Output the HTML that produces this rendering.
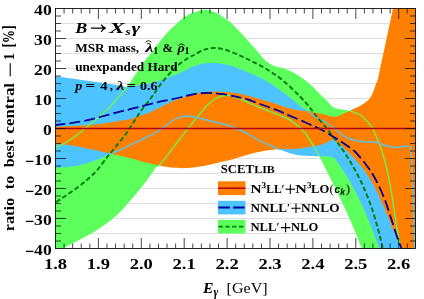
<!DOCTYPE html>
<html><head><meta charset="utf-8"><title>plot</title>
<style>html,body{margin:0;padding:0;background:#fff}body{width:424px;height:299px;overflow:hidden;font-family:"Liberation Serif",serif}</style></head>
<body>
<svg width="424" height="299" viewBox="0 0 424 299" style="display:block;will-change:transform">
<!-- bg -->
<defs><clipPath id="c"><rect x="55.5" y="8.5" width="360.0" height="240.0"/></clipPath></defs>
<path d="M55.5 23.5H415.5M55.5 38.5H415.5M55.5 53.5H415.5M55.5 68.5H415.5M55.5 83.5H415.5M55.5 98.5H415.5M55.5 113.5H415.5M55.5 128.5H415.5M55.5 143.5H415.5M55.5 158.5H415.5M55.5 173.5H415.5M55.5 188.5H415.5M55.5 203.5H415.5M55.5 218.5H415.5M55.5 233.5H415.5" stroke="#DEDEDE" stroke-width="1" fill="none"/>
<g clip-path="url(#c)">
<path d="M55.5 148.0C57.9 146.7 65.1 143.2 70.0 140.0C74.9 136.8 80.3 132.2 85.0 128.5C89.7 124.8 94.7 120.8 98.0 118.0C101.3 115.2 102.8 113.7 105.0 111.5C107.2 109.3 109.5 107.2 111.5 105.0C113.5 102.8 115.0 100.7 117.0 98.5C119.0 96.3 121.5 93.6 123.3 91.7C125.0 89.8 125.8 89.4 127.5 87.0C129.2 84.6 131.2 80.6 133.3 77.5C135.4 74.4 138.1 71.1 140.0 68.3C141.9 65.5 143.0 63.2 145.0 60.5C147.0 57.8 150.2 54.2 152.0 52.0C153.8 49.8 153.8 49.2 155.5 47.0C157.2 44.8 159.8 41.4 162.0 38.7C164.2 36.0 166.5 33.2 169.0 30.7C171.5 28.2 174.2 25.9 176.9 23.5C179.6 21.1 182.1 18.3 185.4 16.3C188.7 14.3 193.2 12.5 196.7 11.4C200.2 10.3 203.4 9.6 206.6 9.8C209.8 10.0 212.8 11.3 216.0 12.8C219.2 14.3 223.3 17.2 226.0 19.0C228.7 20.8 229.3 21.2 232.0 23.7C234.7 26.2 239.0 30.8 242.0 34.0C245.0 37.2 247.3 40.0 250.0 43.0C252.7 46.0 255.5 49.2 258.0 52.0C260.5 54.8 262.4 57.7 265.0 60.0C267.6 62.3 270.2 64.4 273.3 65.8C276.4 67.2 280.0 67.2 283.3 68.3C286.6 69.4 290.0 70.7 293.3 72.5C296.6 74.3 300.2 76.8 303.3 79.0C306.4 81.2 308.9 83.2 311.7 85.8C314.5 88.3 317.6 92.0 320.0 94.3C322.4 96.6 324.1 97.9 326.0 99.8C327.9 101.7 329.8 104.4 331.4 105.8C333.0 107.2 333.6 107.6 335.4 108.2C337.2 108.8 340.2 109.2 342.0 109.5C343.8 109.8 344.7 109.8 346.0 110.0C347.3 110.2 348.7 110.6 350.0 111.0C351.3 111.4 352.2 111.6 354.0 112.3C355.8 113.0 358.5 113.7 360.5 115.0C362.5 116.3 364.5 118.5 366.0 120.0C367.5 121.5 368.4 122.6 369.5 124.0C370.6 125.4 371.5 126.5 372.6 128.5C373.7 130.5 375.0 133.4 376.1 136.0C377.2 138.6 378.4 141.3 379.4 144.0C380.4 146.7 381.3 149.3 382.2 152.0C383.1 154.7 383.8 157.0 384.6 160.0C385.4 163.0 386.3 166.7 387.1 170.0C387.9 173.3 388.6 176.7 389.2 180.0C389.8 183.3 390.4 186.7 391.0 190.0C391.6 193.3 392.1 196.7 392.6 200.0C393.1 203.3 393.6 206.7 394.1 210.0C394.6 213.3 395.1 216.7 395.6 220.0C396.1 223.3 396.6 226.7 397.2 230.0C397.8 233.3 398.5 236.9 399.1 240.0C399.7 243.1 400.2 245.5 400.9 248.5C401.6 251.5 402.9 256.4 403.3 258.0L364.9 258.0C364.3 256.4 362.7 251.5 361.6 248.5C360.5 245.5 359.6 243.1 358.4 240.0C357.2 236.9 355.8 233.3 354.4 230.0C353.0 226.7 351.6 223.3 350.2 220.0C348.8 216.7 347.2 213.3 345.7 210.0C344.2 206.7 342.6 203.3 341.0 200.0C339.4 196.7 337.8 193.3 336.2 190.0C334.6 186.7 332.7 183.0 331.2 180.0C329.7 177.0 328.5 174.7 327.2 172.0C325.9 169.3 324.5 166.7 323.2 164.0C321.9 161.3 320.3 158.3 319.1 156.0C317.9 153.7 317.2 152.2 316.0 150.0C314.8 147.8 313.5 145.8 311.7 143.0C309.9 140.2 307.3 135.8 305.0 133.0C302.7 130.2 300.2 128.0 298.0 126.0C295.8 124.0 294.2 122.7 292.0 121.3C289.8 119.9 288.3 119.0 285.0 117.5C281.7 116.0 275.8 113.8 272.0 112.3C268.2 110.8 265.2 109.6 262.0 108.3C258.8 107.0 255.7 105.8 253.0 104.7C250.3 103.6 248.4 102.6 246.0 101.5C243.6 100.4 241.0 99.0 238.3 98.0C235.6 97.0 232.5 95.9 230.0 95.5C227.5 95.1 225.8 95.2 223.3 95.8C220.8 96.4 217.6 97.5 215.0 99.0C212.4 100.5 210.2 102.3 207.5 105.0C204.8 107.7 202.2 111.1 199.0 115.0C195.8 118.9 191.3 124.3 188.0 128.5C184.7 132.7 182.0 136.1 179.0 140.0C176.0 143.9 173.1 148.0 170.0 152.0C166.9 156.0 162.7 161.6 160.5 164.0C158.3 166.4 159.1 163.8 156.7 166.7C154.2 169.6 149.8 176.5 145.8 181.7C141.8 186.9 137.4 192.4 132.6 198.0C127.8 203.6 122.4 210.0 117.0 215.0C111.6 220.0 105.7 224.2 100.0 228.0C94.3 231.8 89.0 234.7 83.0 238.0C77.0 241.3 68.6 245.5 64.0 248.0C59.4 250.5 57.8 251.7 55.5 253.0C53.2 254.3 50.9 255.5 50.0 256.0Z" fill="#5CFF5C"/>
<path d="M55.5 76.0C59.6 76.6 72.6 78.6 80.0 79.7C87.4 80.8 93.9 81.6 100.0 82.5C106.1 83.4 112.1 84.2 116.7 85.0C121.3 85.8 123.6 87.0 127.5 87.0C131.4 87.0 135.7 85.8 140.0 85.0C144.3 84.2 148.9 83.7 153.3 82.5C157.8 81.3 162.2 79.6 166.7 78.0C171.1 76.4 175.8 74.8 180.0 73.0C184.2 71.2 188.0 68.6 192.0 67.0C196.0 65.4 200.3 64.3 204.0 63.6C207.7 62.9 210.0 62.8 214.0 63.0C218.0 63.2 223.7 64.0 228.0 65.0C232.3 66.0 236.3 67.6 240.0 69.0C243.7 70.4 246.7 71.9 250.0 73.3C253.3 74.7 256.7 75.8 260.0 77.5C263.3 79.2 266.7 81.2 270.0 83.3C273.3 85.4 276.7 87.6 280.0 90.0C283.3 92.4 286.7 94.9 290.0 97.5C293.3 100.1 297.1 103.5 300.0 105.8C302.9 108.0 305.0 109.2 307.5 111.0C310.0 112.8 311.8 114.7 315.0 116.7C318.2 118.7 323.4 121.0 326.7 123.0C330.0 125.0 332.3 126.9 335.0 129.0C337.7 131.1 340.5 133.8 343.0 135.5C345.5 137.2 347.5 138.1 350.0 139.0C352.5 139.9 355.3 140.5 358.0 141.0C360.7 141.5 363.1 141.8 366.0 142.0C368.9 142.2 372.3 141.5 375.3 142.0C378.3 142.5 381.0 144.2 383.8 145.0C386.6 145.8 389.5 146.8 392.3 147.1C395.1 147.4 398.5 147.0 400.8 146.9C403.1 146.8 404.6 146.4 406.0 146.3C407.4 146.2 408.5 146.1 409.3 146.4C410.1 146.7 410.3 147.1 410.6 148.0C410.9 148.9 411.0 149.7 411.2 152.0C411.4 154.3 411.4 157.0 411.6 162.0C411.8 167.0 412.2 174.0 412.5 182.0C412.8 190.0 413.2 198.8 413.5 210.0C413.8 221.2 414.1 240.7 414.3 249.0C414.5 257.3 414.5 258.2 414.5 260.0L382.2 258.0C381.7 256.4 380.0 251.5 379.0 248.5C378.0 245.5 377.2 243.1 376.1 240.0C375.0 236.9 373.7 233.3 372.4 230.0C371.1 226.7 369.9 223.3 368.5 220.0C367.1 216.7 365.8 213.3 364.3 210.0C362.8 206.7 361.2 203.3 359.6 200.0C358.0 196.7 356.4 193.3 354.6 190.0C352.8 186.7 350.8 183.0 349.0 180.0C347.2 177.0 345.7 174.5 344.1 172.0C342.5 169.5 340.9 167.2 339.5 165.0C338.1 162.8 336.6 160.3 335.4 159.0C334.1 157.7 333.2 157.7 332.0 157.3C330.8 156.9 330.0 156.7 328.0 156.5C326.0 156.3 323.0 156.4 320.0 156.3C317.0 156.2 313.3 156.1 310.0 156.0C306.7 155.9 303.3 155.9 300.0 155.5C296.7 155.1 293.3 154.3 290.0 153.3C286.7 152.3 283.3 150.8 280.0 149.5C276.7 148.2 273.3 146.7 270.0 145.3C266.7 143.9 263.3 142.7 260.0 141.0C256.7 139.3 253.3 136.8 250.0 135.0C246.7 133.2 243.3 131.5 240.0 130.0C236.7 128.5 233.3 126.9 230.0 125.8C226.7 124.7 223.3 124.1 220.0 123.3C216.7 122.5 213.3 121.6 210.0 120.8C206.7 120.0 202.7 119.1 200.0 118.5C197.3 117.9 196.0 117.4 194.0 117.0C192.0 116.6 190.0 116.1 188.0 116.0C186.0 115.9 183.7 116.3 182.0 116.6C180.3 116.9 179.3 117.4 178.0 118.0C176.7 118.6 175.7 119.0 174.0 120.0C172.3 121.0 170.0 122.6 168.0 124.0C166.0 125.4 164.2 127.0 162.0 128.5C159.8 130.0 157.7 131.5 155.0 133.0C152.3 134.5 149.8 135.6 146.0 137.5C142.2 139.4 136.3 142.1 132.0 144.2C127.7 146.3 123.7 148.4 120.0 150.0C116.3 151.6 114.2 152.2 110.0 154.0C105.8 155.8 100.4 158.7 95.0 160.6C89.6 162.5 84.1 164.5 77.5 165.7C70.9 166.9 59.2 167.5 55.5 167.8Z" fill="#4DC4FF"/>
<path d="M55.5 126.7C58.8 126.6 69.2 126.3 75.0 126.0C80.8 125.7 85.0 125.5 90.0 125.0C95.0 124.5 100.0 124.0 105.0 123.3C110.0 122.6 115.8 121.5 120.0 120.8C124.2 120.1 126.7 120.0 130.0 119.2C133.3 118.4 136.7 116.9 140.0 115.8C143.3 114.7 146.7 113.9 150.0 112.5C153.3 111.1 156.7 109.2 160.0 107.5C163.3 105.8 166.7 104.0 170.0 102.5C173.3 101.0 176.7 99.7 180.0 98.5C183.3 97.3 186.7 96.3 190.0 95.3C193.3 94.3 196.4 93.3 200.0 92.7C203.6 92.1 207.8 91.6 211.7 91.5C215.6 91.4 219.4 91.8 223.3 92.0C227.2 92.2 231.1 92.4 235.0 93.0C238.9 93.6 242.5 94.5 246.7 95.6C250.9 96.6 256.1 98.2 260.0 99.3C263.9 100.4 266.7 101.0 270.0 102.0C273.3 103.0 276.7 104.1 280.0 105.2C283.3 106.3 286.7 107.6 290.0 108.5C293.3 109.4 297.1 110.0 300.0 110.5C302.9 111.0 303.7 110.7 307.5 111.3C311.3 111.9 319.1 113.4 323.0 114.2C326.9 115.0 329.0 115.9 331.0 116.3C333.0 116.7 333.7 116.8 335.0 116.8C336.3 116.8 337.6 116.5 339.0 116.0C340.4 115.5 341.6 114.5 343.4 113.6C345.2 112.7 348.2 111.5 350.0 110.7C351.8 109.9 352.3 109.6 354.0 108.8C355.7 108.0 358.0 107.1 360.0 106.0C362.0 104.9 364.3 103.3 366.0 102.0C367.7 100.7 368.8 99.7 370.0 98.0C371.2 96.3 372.2 94.4 373.2 92.0C374.2 89.6 375.1 86.3 376.0 83.5C376.9 80.7 375.9 87.5 378.8 75.0C381.6 62.5 390.3 21.0 393.0 8.5C395.7 -4.0 394.5 1.4 394.8 0.0L430 0L430 260L406.5 258.0C405.7 256.4 403.2 251.5 401.7 248.5C400.2 245.5 399.0 243.1 397.6 240.0C396.2 236.9 394.6 233.3 393.2 230.0C391.8 226.7 390.5 223.3 389.1 220.0C387.8 216.7 386.5 213.3 385.1 210.0C383.7 206.7 382.4 203.3 380.9 200.0C379.4 196.7 377.9 193.3 376.2 190.0C374.5 186.7 372.5 183.0 370.7 180.0C368.9 177.0 367.3 174.7 365.4 172.0C363.5 169.3 361.5 166.7 359.3 164.0C357.1 161.3 354.7 158.7 352.1 156.0C349.5 153.3 346.2 150.2 343.8 148.0C341.4 145.8 339.7 144.4 338.0 143.0C336.3 141.6 334.2 139.9 333.5 139.3L333.5 139.3C333.1 139.5 332.1 139.8 331.0 140.3C329.9 140.8 328.5 141.7 326.7 142.5C324.9 143.3 322.8 144.3 320.0 145.0C317.2 145.7 313.3 146.1 310.0 146.7C306.7 147.3 303.3 148.1 300.0 148.5C296.7 148.9 293.3 149.1 290.0 149.2C286.7 149.3 283.3 148.9 280.0 149.0C276.7 149.1 273.3 149.6 270.0 150.0C266.7 150.4 263.3 151.0 260.0 151.7C256.7 152.4 253.3 153.1 250.0 154.0C246.7 154.9 243.6 155.9 240.0 157.0C236.4 158.1 233.8 159.0 228.5 160.3C223.2 161.6 215.2 163.7 208.5 165.0C201.8 166.3 194.8 167.6 188.5 168.0C182.2 168.4 176.0 167.9 171.0 167.5C166.0 167.1 162.7 166.1 158.5 165.3C154.3 164.5 151.2 163.8 146.0 162.5C140.8 161.2 133.5 159.0 127.5 157.5C121.5 156.0 114.6 154.6 110.0 153.5C105.4 152.4 103.3 151.9 100.0 151.2C96.7 150.4 93.3 149.7 90.0 149.0C86.7 148.3 83.3 147.6 80.0 147.0C76.7 146.4 74.1 145.6 70.0 145.2C65.9 144.8 57.9 144.5 55.5 144.3Z" fill="#FF8000"/>
<path d="M55.5 148.0C57.9 146.7 65.1 143.2 70.0 140.0C74.9 136.8 80.3 132.2 85.0 128.5C89.7 124.8 94.7 120.8 98.0 118.0C101.3 115.2 102.8 113.7 105.0 111.5C107.2 109.3 109.5 107.2 111.5 105.0C113.5 102.8 115.0 100.7 117.0 98.5C119.0 96.3 121.5 93.6 123.3 91.7C125.0 89.8 126.8 87.8 127.5 87.0" stroke="#6EF250" stroke-width="1.4" fill="none"/>
<path d="M350.0 111.0C350.7 111.2 352.2 111.6 354.0 112.3C355.8 113.0 358.5 113.7 360.5 115.0C362.5 116.3 364.5 118.5 366.0 120.0C367.5 121.5 368.4 122.6 369.5 124.0C370.6 125.4 371.5 126.5 372.6 128.5C373.7 130.5 375.0 133.4 376.1 136.0C377.2 138.6 378.4 141.3 379.4 144.0C380.4 146.7 381.3 149.3 382.2 152.0C383.1 154.7 383.8 157.0 384.6 160.0C385.4 163.0 386.3 166.7 387.1 170.0C387.9 173.3 388.6 176.7 389.2 180.0C389.8 183.3 390.4 186.7 391.0 190.0C391.6 193.3 392.1 196.7 392.6 200.0C393.1 203.3 393.6 206.7 394.1 210.0C394.6 213.3 395.1 216.7 395.6 220.0C396.1 223.3 396.6 226.7 397.2 230.0C397.8 233.3 398.5 236.9 399.1 240.0C399.7 243.1 400.2 245.5 400.9 248.5C401.6 251.5 402.9 256.4 403.3 258.0" stroke="#6EF250" stroke-width="1.4" fill="none"/>
<path d="M156.7 166.7C157.3 166.2 158.3 166.4 160.5 164.0C162.7 161.6 166.9 156.0 170.0 152.0C173.1 148.0 176.0 143.9 179.0 140.0C182.0 136.1 184.7 132.7 188.0 128.5C191.3 124.3 195.8 118.9 199.0 115.0C202.2 111.1 204.8 107.7 207.5 105.0C210.2 102.3 212.4 100.5 215.0 99.0C217.6 97.5 220.8 96.4 223.3 95.8C225.8 95.2 227.5 95.1 230.0 95.5C232.5 95.9 235.6 97.0 238.3 98.0C241.0 99.0 243.6 100.4 246.0 101.5C248.4 102.6 250.3 103.6 253.0 104.7C255.7 105.8 258.8 107.0 262.0 108.3C265.2 109.6 268.2 110.8 272.0 112.3C275.8 113.8 281.7 116.0 285.0 117.5C288.3 119.0 289.8 119.9 292.0 121.3C294.2 122.7 295.8 124.0 298.0 126.0C300.2 128.0 302.7 130.2 305.0 133.0C307.3 135.8 309.9 140.2 311.7 143.0C313.5 145.8 314.8 147.8 316.0 150.0C317.2 152.2 318.6 155.0 319.1 156.0" stroke="#6EF250" stroke-width="1.4" fill="none"/>
<path d="M307.5 111.0C308.8 112.0 311.8 114.7 315.0 116.7C318.2 118.7 323.4 121.0 326.7 123.0C330.0 125.0 332.3 126.9 335.0 129.0C337.7 131.1 340.5 133.8 343.0 135.5C345.5 137.2 347.5 138.1 350.0 139.0C352.5 139.9 355.3 140.5 358.0 141.0C360.7 141.5 363.1 141.8 366.0 142.0C368.9 142.2 372.3 141.5 375.3 142.0C378.3 142.5 381.0 144.2 383.8 145.0C386.6 145.8 389.5 146.8 392.3 147.1C395.1 147.4 398.5 147.0 400.8 146.9C403.1 146.8 404.6 146.4 406.0 146.3C407.4 146.2 408.5 146.1 409.3 146.4C410.1 146.7 410.3 147.1 410.6 148.0C410.9 148.9 411.0 149.7 411.2 152.0C411.4 154.3 411.4 157.0 411.6 162.0C411.8 167.0 412.2 174.0 412.5 182.0C412.8 190.0 413.2 198.8 413.5 210.0C413.8 221.2 414.1 240.7 414.3 249.0C414.5 257.3 414.5 258.2 414.5 260.0" stroke="#5AC3EC" stroke-width="1.4" fill="none"/>
<path d="M110.0 154.0C111.7 153.3 116.3 151.6 120.0 150.0C123.7 148.4 127.7 146.3 132.0 144.2C136.3 142.1 142.2 139.4 146.0 137.5C149.8 135.6 152.3 134.5 155.0 133.0C157.7 131.5 159.8 130.0 162.0 128.5C164.2 127.0 166.0 125.4 168.0 124.0C170.0 122.6 172.3 121.0 174.0 120.0C175.7 119.0 176.7 118.6 178.0 118.0C179.3 117.4 180.3 116.9 182.0 116.6C183.7 116.3 186.0 115.9 188.0 116.0C190.0 116.1 192.0 116.6 194.0 117.0C196.0 117.4 197.3 117.9 200.0 118.5C202.7 119.1 206.7 120.0 210.0 120.8C213.3 121.6 216.7 122.5 220.0 123.3C223.3 124.1 226.7 124.7 230.0 125.8C233.3 126.9 236.7 128.5 240.0 130.0C243.3 131.5 246.7 133.2 250.0 135.0C253.3 136.8 256.7 139.3 260.0 141.0C263.3 142.7 266.7 143.9 270.0 145.3C273.3 146.7 278.3 148.8 280.0 149.5" stroke="#5AC3EC" stroke-width="1.4" fill="none"/>
<path d="M50.0 206.0C50.9 205.4 50.9 205.6 55.5 202.5C60.1 199.4 70.9 192.5 77.5 187.5C84.1 182.5 90.1 177.5 95.0 172.5C99.9 167.5 103.8 161.2 106.8 157.5C109.8 153.8 109.9 153.8 113.0 150.0C116.1 146.2 121.9 139.4 125.2 135.0C128.5 130.6 130.1 127.5 132.8 123.3C135.6 119.1 138.8 114.0 141.7 110.0C144.6 106.0 147.5 102.5 150.0 99.2C152.5 95.9 154.4 93.2 156.7 90.0C159.0 86.8 160.8 83.8 164.0 80.0C167.2 76.2 172.0 70.7 176.0 67.0C180.0 63.3 185.0 60.0 188.0 58.0C191.0 56.0 191.3 56.4 194.0 55.0C196.7 53.6 200.7 51.0 204.0 49.8C207.3 48.6 210.3 48.0 214.0 48.0C217.7 48.0 221.7 48.7 226.0 50.0C230.3 51.3 235.7 53.7 240.0 55.6C244.3 57.5 247.6 59.0 252.0 61.3C256.4 63.6 261.5 66.0 266.7 69.2C271.9 72.5 277.8 76.2 283.3 80.8C288.9 85.3 295.6 92.0 300.0 96.5C304.4 101.0 307.5 104.8 310.0 107.8C312.5 110.8 312.2 111.0 315.0 114.5C317.8 118.0 323.0 123.9 326.7 128.5C330.4 133.1 334.3 138.4 337.0 142.0C339.7 145.6 341.0 147.3 342.8 150.0C344.6 152.7 346.3 155.3 348.0 158.0C349.7 160.7 351.3 163.3 352.8 166.0C354.3 168.7 355.8 171.3 357.2 174.0C358.6 176.7 359.9 179.3 361.2 182.0C362.5 184.7 363.5 187.0 364.8 190.0C366.1 193.0 367.5 196.7 368.8 200.0C370.1 203.3 371.3 206.7 372.4 210.0C373.5 213.3 374.5 216.7 375.5 220.0C376.5 223.3 377.4 226.7 378.3 230.0C379.2 233.3 380.1 236.9 380.8 240.0C381.6 243.1 382.1 245.5 382.8 248.5C383.5 251.5 384.5 256.4 384.8 258.0" stroke="#007D00" stroke-width="1.9" fill="none" stroke-dasharray="4.8 2.6"/>
<path d="M55.5 125.0C59.6 124.5 72.6 123.0 80.0 121.7C87.4 120.4 93.3 118.7 100.0 117.0C106.7 115.3 115.0 113.0 120.0 111.7C125.0 110.4 126.7 110.0 130.0 109.2C133.3 108.4 136.7 107.5 140.0 106.7C143.3 105.9 146.7 105.0 150.0 104.2C153.3 103.4 156.7 102.5 160.0 101.7C163.3 101.0 166.7 100.4 170.0 99.7C173.3 99.0 176.7 98.3 180.0 97.5C183.3 96.7 186.7 95.7 190.0 95.0C193.3 94.3 196.4 93.6 200.0 93.3C203.6 93.0 207.9 92.8 211.7 93.0C215.5 93.2 219.1 93.6 223.0 94.2C226.9 94.8 231.1 95.6 235.0 96.4C238.9 97.2 242.5 97.9 246.7 99.2C250.9 100.5 254.9 102.2 260.0 104.0C265.1 105.8 272.0 108.2 277.0 110.2C282.0 112.2 285.1 113.7 290.0 115.8C294.9 117.9 301.7 120.8 306.7 123.0C311.7 125.2 315.6 126.8 320.0 129.0C324.4 131.2 329.4 134.3 333.0 136.5C336.6 138.7 339.3 140.4 341.7 142.0C344.1 143.6 345.4 144.5 347.5 146.0C349.6 147.5 352.1 149.0 354.3 151.0C356.5 153.0 358.7 155.7 360.7 158.0C362.7 160.3 364.6 162.7 366.3 165.0C368.1 167.3 369.6 169.5 371.2 172.0C372.8 174.5 374.3 177.0 375.9 180.0C377.5 183.0 379.3 186.7 380.8 190.0C382.3 193.3 383.6 196.7 384.9 200.0C386.2 203.3 387.3 206.7 388.4 210.0C389.5 213.3 390.5 216.7 391.6 220.0C392.7 223.3 393.7 226.7 394.8 230.0C395.9 233.3 397.1 236.9 398.2 240.0C399.3 243.1 400.3 245.5 401.6 248.5C402.9 251.5 405.3 256.4 406.0 258.0" stroke="#00009A" stroke-width="1.8" fill="none" stroke-dasharray="11 4" stroke-dashoffset="1"/>
<path d="M55.5 128.5H415.5" stroke="#B0001E" stroke-width="1.5" fill="none"/>
</g>
<rect x="218.0" y="181.3" width="27.5" height="13.8" fill="#FF8000"/>
<rect x="218.0" y="200.8" width="27.5" height="13.6" fill="#4DC4FF"/>
<rect x="218.0" y="219.8" width="27.5" height="13.6" fill="#5CFF5C"/>
<path d="M218.0 188.2H245.5" stroke="#B0001E" stroke-width="1.5"/>
<path d="M218.3 207.6H245.5" stroke="#00009A" stroke-width="2" stroke-dasharray="11.5 3.3"/>
<path d="M218.6 226.6H245.5" stroke="#007D00" stroke-width="1.7" stroke-dasharray="4.3 2.5"/>
<path d="M64.08 8.5v5.0M64.08 248.5v-5.0M72.66 8.5v5.0M72.66 248.5v-5.0M81.24 8.5v5.0M81.24 248.5v-5.0M89.82 8.5v5.0M89.82 248.5v-5.0M98.40 8.5v10.5M98.40 248.5v-10.5M106.98 8.5v5.0M106.98 248.5v-5.0M115.56 8.5v5.0M115.56 248.5v-5.0M124.14 8.5v5.0M124.14 248.5v-5.0M132.72 8.5v5.0M132.72 248.5v-5.0M141.30 8.5v10.5M141.30 248.5v-10.5M149.88 8.5v5.0M149.88 248.5v-5.0M158.46 8.5v5.0M158.46 248.5v-5.0M167.04 8.5v5.0M167.04 248.5v-5.0M175.62 8.5v5.0M175.62 248.5v-5.0M184.20 8.5v10.5M184.20 248.5v-10.5M192.78 8.5v5.0M192.78 248.5v-5.0M201.36 8.5v5.0M201.36 248.5v-5.0M209.94 8.5v5.0M209.94 248.5v-5.0M218.52 8.5v5.0M218.52 248.5v-5.0M227.10 8.5v10.5M227.10 248.5v-10.5M235.68 8.5v5.0M235.68 248.5v-5.0M244.26 8.5v5.0M244.26 248.5v-5.0M252.84 8.5v5.0M252.84 248.5v-5.0M261.42 8.5v5.0M261.42 248.5v-5.0M270.00 8.5v10.5M270.00 248.5v-10.5M278.58 8.5v5.0M278.58 248.5v-5.0M287.16 8.5v5.0M287.16 248.5v-5.0M295.74 8.5v5.0M295.74 248.5v-5.0M304.32 8.5v5.0M304.32 248.5v-5.0M312.90 8.5v10.5M312.90 248.5v-10.5M321.48 8.5v5.0M321.48 248.5v-5.0M330.06 8.5v5.0M330.06 248.5v-5.0M338.64 8.5v5.0M338.64 248.5v-5.0M347.22 8.5v5.0M347.22 248.5v-5.0M355.80 8.5v10.5M355.80 248.5v-10.5M364.38 8.5v5.0M364.38 248.5v-5.0M372.96 8.5v5.0M372.96 248.5v-5.0M381.54 8.5v5.0M381.54 248.5v-5.0M390.12 8.5v5.0M390.12 248.5v-5.0M398.70 8.5v10.5M398.70 248.5v-10.5M407.28 8.5v5.0M407.28 248.5v-5.0M55.5 16.00h5.5M415.5 16.00h-5.5M55.5 23.50h5.5M415.5 23.50h-5.5M55.5 31.00h5.5M415.5 31.00h-5.5M55.5 38.50h10.5M415.5 38.50h-10.5M55.5 46.00h5.5M415.5 46.00h-5.5M55.5 53.50h5.5M415.5 53.50h-5.5M55.5 61.00h5.5M415.5 61.00h-5.5M55.5 68.50h10.5M415.5 68.50h-10.5M55.5 76.00h5.5M415.5 76.00h-5.5M55.5 83.50h5.5M415.5 83.50h-5.5M55.5 91.00h5.5M415.5 91.00h-5.5M55.5 98.50h10.5M415.5 98.50h-10.5M55.5 106.00h5.5M415.5 106.00h-5.5M55.5 113.50h5.5M415.5 113.50h-5.5M55.5 121.00h5.5M415.5 121.00h-5.5M55.5 128.50h10.5M415.5 128.50h-10.5M55.5 136.00h5.5M415.5 136.00h-5.5M55.5 143.50h5.5M415.5 143.50h-5.5M55.5 151.00h5.5M415.5 151.00h-5.5M55.5 158.50h10.5M415.5 158.50h-10.5M55.5 166.00h5.5M415.5 166.00h-5.5M55.5 173.50h5.5M415.5 173.50h-5.5M55.5 181.00h5.5M415.5 181.00h-5.5M55.5 188.50h10.5M415.5 188.50h-10.5M55.5 196.00h5.5M415.5 196.00h-5.5M55.5 203.50h5.5M415.5 203.50h-5.5M55.5 211.00h5.5M415.5 211.00h-5.5M55.5 218.50h10.5M415.5 218.50h-10.5M55.5 226.00h5.5M415.5 226.00h-5.5M55.5 233.50h5.5M415.5 233.50h-5.5M55.5 241.00h5.5M415.5 241.00h-5.5" stroke="#000" stroke-width="0.72" fill="none"/>
<rect x="55.5" y="8.5" width="360.0" height="240.0" fill="none" stroke="#000" stroke-width="0.85"/>
<g>
<text x="34.1" y="15.1" font-family="Liberation Serif, serif" font-size="14.6" font-weight="bold" text-anchor="start" textLength="17.6" lengthAdjust="spacingAndGlyphs" >40</text>
<text x="34.1" y="45.1" font-family="Liberation Serif, serif" font-size="14.6" font-weight="bold" text-anchor="start" textLength="17.6" lengthAdjust="spacingAndGlyphs" >30</text>
<text x="34.1" y="75.1" font-family="Liberation Serif, serif" font-size="14.6" font-weight="bold" text-anchor="start" textLength="17.6" lengthAdjust="spacingAndGlyphs" >20</text>
<text x="34.1" y="105.1" font-family="Liberation Serif, serif" font-size="14.6" font-weight="bold" text-anchor="start" textLength="17.6" lengthAdjust="spacingAndGlyphs" >10</text>
<text x="43.0" y="135.1" font-family="Liberation Serif, serif" font-size="14.6" font-weight="bold" text-anchor="start" textLength="8.8" lengthAdjust="spacingAndGlyphs" >0</text>
<text x="34.1" y="165.1" font-family="Liberation Serif, serif" font-size="14.6" font-weight="bold" text-anchor="start" textLength="17.6" lengthAdjust="spacingAndGlyphs" >10</text>
<path d="M26 161.4H33.4" stroke="#000" stroke-width="1.3" fill="none"/>
<text x="34.1" y="195.1" font-family="Liberation Serif, serif" font-size="14.6" font-weight="bold" text-anchor="start" textLength="17.6" lengthAdjust="spacingAndGlyphs" >20</text>
<path d="M26 191.4H33.4" stroke="#000" stroke-width="1.3" fill="none"/>
<text x="34.1" y="225.1" font-family="Liberation Serif, serif" font-size="14.6" font-weight="bold" text-anchor="start" textLength="17.6" lengthAdjust="spacingAndGlyphs" >30</text>
<path d="M26 221.4H33.4" stroke="#000" stroke-width="1.3" fill="none"/>
<text x="34.1" y="255.1" font-family="Liberation Serif, serif" font-size="14.6" font-weight="bold" text-anchor="start" textLength="17.6" lengthAdjust="spacingAndGlyphs" >40</text>
<path d="M26 251.4H33.4" stroke="#000" stroke-width="1.3" fill="none"/>
<text x="43.9" y="268.9" font-family="Liberation Serif, serif" font-size="14.6" font-weight="bold" text-anchor="start" textLength="23.2" lengthAdjust="spacingAndGlyphs" >1.8</text>
<text x="86.8" y="268.9" font-family="Liberation Serif, serif" font-size="14.6" font-weight="bold" text-anchor="start" textLength="23.2" lengthAdjust="spacingAndGlyphs" >1.9</text>
<text x="129.7" y="268.9" font-family="Liberation Serif, serif" font-size="14.6" font-weight="bold" text-anchor="start" textLength="23.2" lengthAdjust="spacingAndGlyphs" >2.0</text>
<text x="172.6" y="268.9" font-family="Liberation Serif, serif" font-size="14.6" font-weight="bold" text-anchor="start" textLength="23.2" lengthAdjust="spacingAndGlyphs" >2.1</text>
<text x="215.5" y="268.9" font-family="Liberation Serif, serif" font-size="14.6" font-weight="bold" text-anchor="start" textLength="23.2" lengthAdjust="spacingAndGlyphs" >2.2</text>
<text x="258.4" y="268.9" font-family="Liberation Serif, serif" font-size="14.6" font-weight="bold" text-anchor="start" textLength="23.2" lengthAdjust="spacingAndGlyphs" >2.3</text>
<text x="301.3" y="268.9" font-family="Liberation Serif, serif" font-size="14.6" font-weight="bold" text-anchor="start" textLength="23.2" lengthAdjust="spacingAndGlyphs" >2.4</text>
<text x="344.2" y="268.9" font-family="Liberation Serif, serif" font-size="14.6" font-weight="bold" text-anchor="start" textLength="23.2" lengthAdjust="spacingAndGlyphs" >2.5</text>
<text x="387.1" y="268.9" font-family="Liberation Serif, serif" font-size="14.6" font-weight="bold" text-anchor="start" textLength="23.2" lengthAdjust="spacingAndGlyphs" >2.6</text>
<text x="203" y="293.3" font-family="Liberation Serif, serif" font-size="14.8"><tspan font-weight="bold" font-style="italic" textLength="10.5" lengthAdjust="spacingAndGlyphs">E</tspan><tspan font-size="11.5" dy="3" font-style="italic" font-weight="bold">γ</tspan></text>
<text x="226.6" y="293.3" font-family="Liberation Serif, serif" font-size="14.8" font-weight="normal" text-anchor="start" textLength="41.0" lengthAdjust="spacingAndGlyphs" >[GeV]</text>
<text transform="translate(14.0,231.3) rotate(-90)" font-family="Liberation Serif, serif" font-size="14.2" font-weight="bold" textLength="33.4" lengthAdjust="spacingAndGlyphs">ratio</text>
<text transform="translate(14.0,189.2) rotate(-90)" font-family="Liberation Serif, serif" font-size="14.2" font-weight="bold" textLength="13.4" lengthAdjust="spacingAndGlyphs">to</text>
<text transform="translate(14.0,167.2) rotate(-90)" font-family="Liberation Serif, serif" font-size="14.2" font-weight="bold" textLength="27.2" lengthAdjust="spacingAndGlyphs">best</text>
<text transform="translate(14.0,133.4) rotate(-90)" font-family="Liberation Serif, serif" font-size="14.2" font-weight="bold" textLength="50.4" lengthAdjust="spacingAndGlyphs">central</text>
<path d="M10.2 76.2V63.3" stroke="#000" stroke-width="1.1" fill="none"/>
<text transform="translate(14.0,60.3) rotate(-90)" font-family="Liberation Serif, serif" font-size="14.2" font-weight="bold" textLength="7.2" lengthAdjust="spacingAndGlyphs">1</text>
<text transform="translate(14.4,47.6) rotate(-90)" font-family="Liberation Serif, serif" font-size="17.6" font-weight="bold" textLength="22.2" lengthAdjust="spacingAndGlyphs">[%]</text>
<text x="75.2" y="32.7" font-family="Liberation Serif, serif" font-size="15.2" font-weight="bold" font-style="italic" textLength="12" lengthAdjust="spacingAndGlyphs">B</text>
<path d="M91 28.2H105.2M101.2 24.6C102.2 26.6 103.6 27.7 105.6 28.2C103.6 28.7 102.2 29.8 101.2 31.8" stroke="#000" stroke-width="1.25" fill="none"/>
<text x="109.3" y="32.7" font-family="Liberation Serif, serif" font-size="15.2" font-weight="bold" font-style="italic" textLength="15.5" lengthAdjust="spacingAndGlyphs">X</text>
<text x="125.6" y="35" font-family="Liberation Serif, serif" font-size="10.5" font-weight="bold" font-style="italic" textLength="5.2" lengthAdjust="spacingAndGlyphs">s</text>
<text x="131.5" y="32.7" font-family="Liberation Serif, serif" font-size="15.2" font-weight="bold" font-style="italic" textLength="8.8" lengthAdjust="spacingAndGlyphs">γ</text>
<text x="75.2" y="52.1" font-family="Liberation Serif, serif" font-size="12.5" font-weight="bold" text-anchor="start" textLength="64.0" lengthAdjust="spacingAndGlyphs" >MSR mass,</text>
<text x="145.2" y="52.1" font-family="Liberation Serif, serif" font-size="12.5" font-weight="bold" font-style="italic" textLength="8.2" lengthAdjust="spacingAndGlyphs">λ</text>
<text x="153.2" y="54.2" font-family="Liberation Serif, serif" font-size="9.4" font-weight="bold" text-anchor="start" textLength="5.0" lengthAdjust="spacingAndGlyphs" >1</text>
<text x="162.6" y="52.1" font-family="Liberation Serif, serif" font-size="12.5" font-weight="bold" text-anchor="start" textLength="10.5" lengthAdjust="spacingAndGlyphs" >&amp;</text>
<text x="177.6" y="52.1" font-family="Liberation Serif, serif" font-size="12.5" font-weight="bold" font-style="italic" textLength="7.2" lengthAdjust="spacingAndGlyphs">ρ</text>
<text x="184.6" y="54.2" font-family="Liberation Serif, serif" font-size="9.4" font-weight="bold" text-anchor="start" textLength="5.0" lengthAdjust="spacingAndGlyphs" >1</text>
<path d="M145.6 42.3Q148.4 39.2 151.3 42.3M178.3 45.6Q181.4 42.4 184.6 45.6" stroke="#000" stroke-width="0.9" fill="none"/>
<text x="75.2" y="70.5" font-family="Liberation Serif, serif" font-size="12.5" font-weight="bold" text-anchor="start" textLength="102.3" lengthAdjust="spacingAndGlyphs" >unexpanded Hard</text>
<text x="75.2" y="90.3" font-family="Liberation Serif, serif" font-size="12.5" font-weight="bold" font-style="italic" textLength="7" lengthAdjust="spacingAndGlyphs">p</text>
<text x="85.3" y="90.3" font-family="Liberation Serif, serif" font-size="12.5" font-weight="bold" text-anchor="start" textLength="9.8" lengthAdjust="spacingAndGlyphs" >=</text>
<text x="100.2" y="90.3" font-family="Liberation Serif, serif" font-size="12.5" font-weight="bold" text-anchor="start" textLength="7.3" lengthAdjust="spacingAndGlyphs" >4</text>
<text x="109.7" y="90.3" font-family="Liberation Serif, serif" font-size="12.5" font-weight="bold" text-anchor="start" textLength="3.2" lengthAdjust="spacingAndGlyphs" >,</text>
<text x="116.3" y="90.3" font-family="Liberation Serif, serif" font-size="12.5" font-weight="bold" font-style="italic" textLength="8.2" lengthAdjust="spacingAndGlyphs">λ</text>
<text x="126.5" y="90.3" font-family="Liberation Serif, serif" font-size="12.5" font-weight="bold" text-anchor="start" textLength="9.5" lengthAdjust="spacingAndGlyphs" >=</text>
<text x="140.0" y="90.3" font-family="Liberation Serif, serif" font-size="12.5" font-weight="bold" text-anchor="start" textLength="17.5" lengthAdjust="spacingAndGlyphs" >0.6</text>
<text x="220.8" y="173.4" font-family="Liberation Serif, serif" font-size="12.6" font-weight="bold" text-anchor="start" textLength="33.2" lengthAdjust="spacingAndGlyphs" >SCET</text>
<text x="254.2" y="173.4" font-family="Liberation Serif, serif" font-size="9.8" font-weight="bold" text-anchor="start" textLength="20.6" lengthAdjust="spacingAndGlyphs" >LIB</text>
<text x="250.4" y="192.6" font-family="Liberation Serif, serif" font-size="13.3" font-weight="bold" text-anchor="start" textLength="11.0" lengthAdjust="spacingAndGlyphs" >N</text>
<text x="261.4" y="187.6" font-family="Liberation Serif, serif" font-size="8.8" font-weight="bold" text-anchor="start" textLength="4.6" lengthAdjust="spacingAndGlyphs" >3</text>
<text x="266.2" y="192.6" font-family="Liberation Serif, serif" font-size="13.3" font-weight="bold" text-anchor="start" textLength="15.4" lengthAdjust="spacingAndGlyphs" >LL</text>
<text x="281.6" y="192.6" font-family="Liberation Serif, serif" font-size="13.3" font-weight="bold" text-anchor="start" textLength="3.0" lengthAdjust="spacingAndGlyphs" >′</text>
<path d="M285.6 189.2h9.4M290.3 184.5v9.4" stroke="#000" stroke-width="1.1" fill="none"/>
<text x="295.2" y="192.6" font-family="Liberation Serif, serif" font-size="13.3" font-weight="bold" text-anchor="start" textLength="11.6" lengthAdjust="spacingAndGlyphs" >N</text>
<text x="306.9" y="187.6" font-family="Liberation Serif, serif" font-size="8.8" font-weight="bold" text-anchor="start" textLength="4.6" lengthAdjust="spacingAndGlyphs" >3</text>
<text x="311.0" y="192.6" font-family="Liberation Serif, serif" font-size="13.3" font-weight="bold" text-anchor="start" textLength="18.2" lengthAdjust="spacingAndGlyphs" >LO</text>
<text x="329.6" y="192.6" font-family="Liberation Serif, serif" font-size="13.3" font-weight="normal" text-anchor="start" textLength="4.3" lengthAdjust="spacingAndGlyphs" >(</text>
<text x="334.4" y="192.6" font-family="Liberation Sans, sans-serif" font-size="11.6" font-style="italic" font-weight="bold" textLength="5.6" lengthAdjust="spacingAndGlyphs">c</text>
<text x="340.3" y="194.6" font-family="Liberation Sans, sans-serif" font-size="8.2" font-style="italic" font-weight="bold" textLength="4.8" lengthAdjust="spacingAndGlyphs">k</text>
<text x="345.8" y="192.6" font-family="Liberation Serif, serif" font-size="13.3" font-weight="normal" text-anchor="start" textLength="4.3" lengthAdjust="spacingAndGlyphs" >)</text>
<text x="250.4" y="211.6" font-family="Liberation Serif, serif" font-size="13.3" font-weight="bold" text-anchor="start" textLength="36.6" lengthAdjust="spacingAndGlyphs" >NNLL</text>
<text x="287.0" y="211.6" font-family="Liberation Serif, serif" font-size="13.3" font-weight="bold" text-anchor="start" textLength="3.0" lengthAdjust="spacingAndGlyphs" >′</text>
<path d="M291.3 208.2h9.4M296.0 203.5v9.4" stroke="#000" stroke-width="1.1" fill="none"/>
<text x="301.1" y="211.6" font-family="Liberation Serif, serif" font-size="13.3" font-weight="bold" text-anchor="start" textLength="38.4" lengthAdjust="spacingAndGlyphs" >NNLO</text>
<text x="250.4" y="231.0" font-family="Liberation Serif, serif" font-size="13.3" font-weight="bold" text-anchor="start" textLength="26.1" lengthAdjust="spacingAndGlyphs" >NLL</text>
<text x="276.5" y="231.0" font-family="Liberation Serif, serif" font-size="13.3" font-weight="bold" text-anchor="start" textLength="3.0" lengthAdjust="spacingAndGlyphs" >′</text>
<path d="M280.9 227.6h9.4M285.6 222.9v9.4" stroke="#000" stroke-width="1.1" fill="none"/>
<text x="291.0" y="231.0" font-family="Liberation Serif, serif" font-size="13.3" font-weight="bold" text-anchor="start" textLength="27.2" lengthAdjust="spacingAndGlyphs" >NLO</text>
</g>
</svg>
</body></html>
